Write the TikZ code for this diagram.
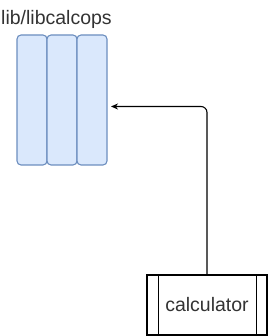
\documentclass[tikz,border=0pt]{standalone}
\usepackage{fontspec}
\setmainfont{Liberation Sans}
\definecolor{libfill}{HTML}{DAE8FC}
\definecolor{libdraw}{HTML}{6C8EBF}
\definecolor{txt}{HTML}{333333}
\tikzset{
  col/.style={draw=libdraw, fill=libfill, rounded corners=4pt, line width=1.1pt, minimum width=30pt, minimum height=130pt, inner sep=0pt},
  proc/.style={draw=black, line width=1.1pt, minimum width=120pt, minimum height=60pt, inner sep=0pt},
  lbl/.style={font=\fontsize{19.5pt}{22pt}\selectfont, text=txt, inner sep=0pt},
  conn/.style={draw=black, line width=1.1pt, -{Stealth[length=7pt,width=6pt]}, rounded corners=6pt}
}
\usetikzlibrary{arrows.meta}
\begin{document}
\begin{tikzpicture}[x=1pt,y=-1pt]
\useasboundingbox (0,0) rectangle (268,336);
\node[col] (c1) at (32,100) {};
\node[col] (c2) at (62,100) {};
\node[col] (c3) at (92,100) {};
\node[lbl] (libname) at (56.5,19) {lib/libcalcops};
\node[proc] (calc) at (207,305) {};
\draw[line width=1.1pt] ([xshift=12pt]calc.north west) -- ([xshift=12pt]calc.south west);
\draw[line width=1.1pt] ([xshift=-11pt]calc.north east) -- ([xshift=-11pt]calc.south east);
\node[lbl] (calctext) at (calc.center) {calculator};
\coordinate (tip) at (111,106.5);
\draw[conn] (calc.north) |- (tip);
\end{tikzpicture}
\end{document}
